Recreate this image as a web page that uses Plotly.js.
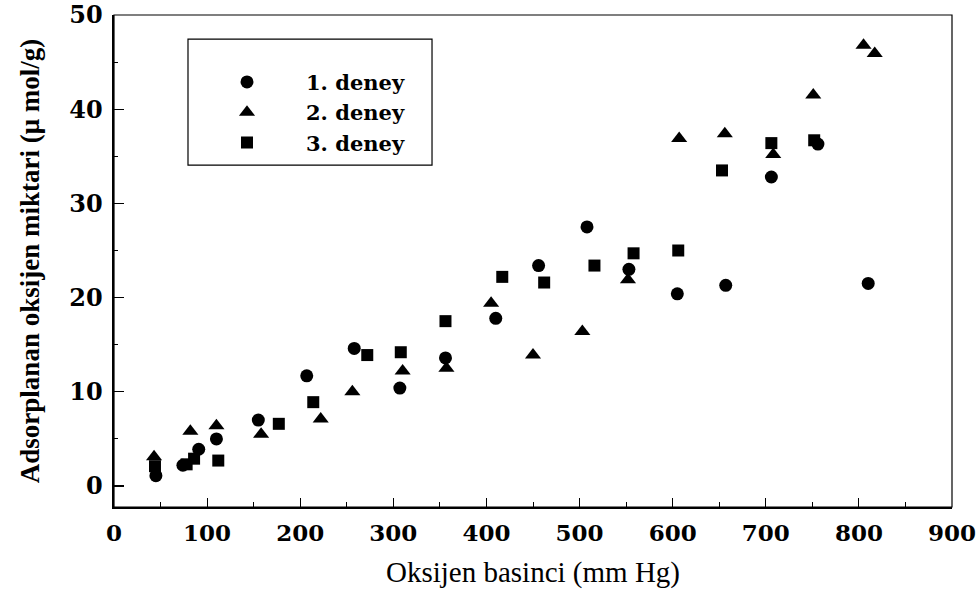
<!DOCTYPE html>
<html>
<head>
<meta charset="utf-8">
<script src="https://cdn.plot.ly/plotly-3.0.1.min.js"></script>
<style>
  html, body { margin: 0; padding: 0; background: #fff; }
  #chart { width: 980px; height: 592px; }
</style>
</head>
<body>
<div id="chart"></div>
<script>
// Oxygen pressure (mm Hg) and adsorbed oxygen (µmol/g) for three runs
const run1Pressure = [45, 74, 91, 110, 155, 207, 258, 307, 356, 410, 456, 508, 553, 605, 657, 706, 756, 810];
const run1Amount   = [1.1, 2.2, 3.9, 5.0, 7.0, 11.7, 14.6, 10.4, 13.6, 17.8, 23.4, 27.5, 23.0, 20.4, 21.3, 32.8, 36.3, 21.5];

const run2Pressure = [43, 82, 110, 158, 222, 256, 310, 357, 405, 450, 503, 552, 607, 656, 708, 751, 805, 817];
const run2Amount   = [3.1, 5.8, 6.4, 5.5, 7.1, 10.0, 12.2, 12.5, 19.4, 13.9, 16.4, 21.9, 36.9, 37.4, 35.2, 41.5, 46.8, 45.9];

const run3Pressure = [44, 78, 86, 112, 177, 214, 272, 308, 356, 417, 462, 516, 558, 606, 653, 706, 752];
const run3Amount   = [2.1, 2.3, 2.9, 2.7, 6.6, 8.9, 13.9, 14.2, 17.5, 22.2, 21.6, 23.4, 24.7, 25.0, 33.5, 36.4, 36.7];

const runNames = ['1. deney', '2. deney', '3. deney'];

const serif = 'Liberation Serif, Times New Roman, serif';
const wideSerif = 'DejaVu Serif, serif';

function run(x, y, name, symbol, size) {
  return {
    x: x, y: y, name: name,
    type: 'scatter', mode: 'markers',
    marker: { symbol: symbol, size: size, color: '#000' },
    cliponaxis: false
  };
}

const data = [
  run(run1Pressure, run1Amount, runNames[0], 'circle', 13),
  run(run2Pressure, run2Amount, runNames[1], 'triangle-up', 14),
  run(run3Pressure, run3Amount, runNames[2], 'square', 12)
];

const layout = {
  width: 980, height: 592,
  margin: { l: 114, r: 28, t: 15, b: 85 },
  paper_bgcolor: '#fff', plot_bgcolor: '#fff',
  showlegend: true,
  legend: {
    x: 0.0883, y: 0.905, xanchor: 'left', yanchor: 'top',
    borderwidth: 0, bgcolor: 'rgba(0,0,0,0)',
    font: { family: wideSerif, size: 21, color: '#000', weight: 'bold' },
    itemwidth: 108
  },
  xaxis: {
    range: [0, 900],
    showgrid: false, zeroline: false,
    showline: true, linecolor: '#000', linewidth: 1.5,
    ticks: 'inside', ticklen: 9, tickwidth: 1.2, tickcolor: '#000',
    tickvals: [0, 100, 200, 300, 400, 500, 600, 700, 800, 900],
    ticktext: ['0', '100', '200', '300', '400', '500', '600', '700', '800', '900'],
    minor: { dtick: 50, tick0: 0, ticks: 'inside', ticklen: 5, tickwidth: 1, tickcolor: '#000', showgrid: false },
    ticklabelstandoff: 5,
    tickfont: { family: wideSerif, size: 23, color: '#000', weight: 'bold' },
    title: { text: 'Oksijen basinci (mm Hg)', standoff: 16,
             font: { family: serif, size: 29, color: '#000' } }
  },
  yaxis: {
    range: [-2.23, 50],
    showgrid: false, zeroline: false,
    showline: true, linecolor: '#000', linewidth: 2.5,
    ticks: 'inside', ticklen: 10, tickwidth: 1.2, tickcolor: '#000',
    tickvals: [0, 10, 20, 30, 40, 50],
    ticktext: ['0', '10', '20', '30', '40', '50'],
    minor: { dtick: 5, tick0: 0, ticks: 'inside', ticklen: 4, tickwidth: 1, tickcolor: '#000', showgrid: false },
    ticklabelstandoff: 4,
    tickfont: { family: wideSerif, size: 24, color: '#000', weight: 'bold' },
    title: { text: 'Adsorplanan oksijen miktari (μ mol/g)', standoff: 22,
             font: { family: serif, size: 27, color: '#000', weight: 'bold' } }
  },
  shapes: [
    // plot frame
    { type: 'rect', xref: 'paper', yref: 'paper', x0: 0, x1: 1, y0: 0, y1: 1,
      line: { color: '#000', width: 1.2 }, layer: 'below' },
    // legend frame
    { type: 'rect', xref: 'paper', yref: 'paper', x0: 0.0883, x1: 0.3795, y0: 0.695, y1: 0.951,
      line: { color: '#000', width: 1.2 }, layer: 'below' }
  ]
};

Plotly.newPlot('chart', data, layout, { displayModeBar: false, staticPlot: true });
</script>
</body>
</html>
